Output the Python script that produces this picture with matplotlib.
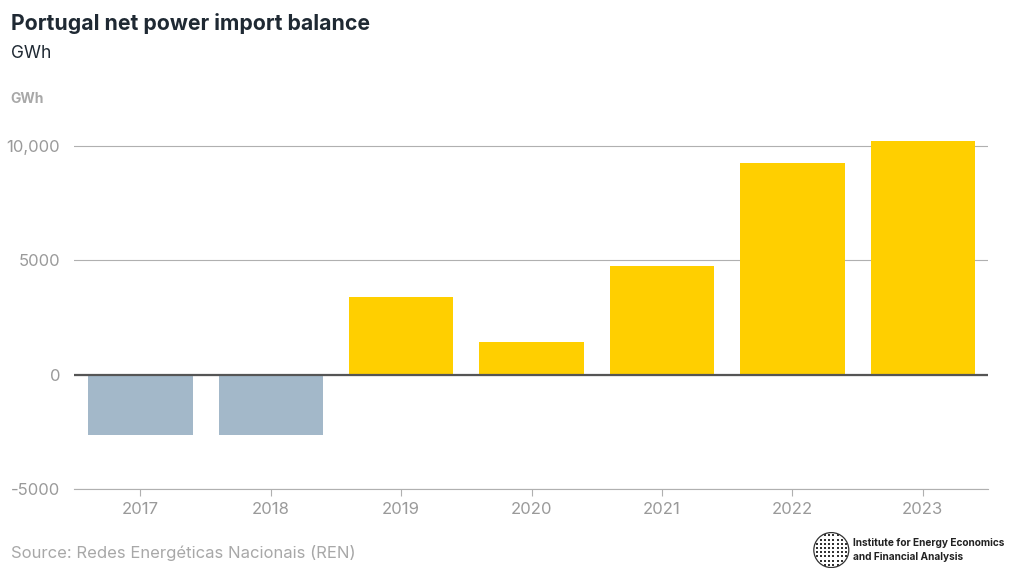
import numpy as np
import matplotlib.pyplot as plt
from matplotlib.ticker import FixedLocator

plt.rcParams['font.family'] = ['Inter', 'DejaVu Sans']

years = ['2017', '2018', '2019', '2020', '2021', '2022', '2023']
balance = [-2660, -2620, 3400, 1440, 4760, 9250, 10220]

yellow = '#FFCF00'
slate = '#A3B8C9'
colors = [slate if v < 0 else yellow for v in balance]

fig = plt.figure(figsize=(10.2, 5.83), dpi=100)
ax = fig.add_axes([0.0725, 0.1612, 0.8961, 0.6081])

x = np.arange(len(years))
ax.bar(x, balance, width=0.8, color=colors, zorder=2)

ax.set_xlim(-0.51, 6.5)
ax.set_ylim(-5000, 10500)
ax.yaxis.set_major_locator(FixedLocator([-5000, 0, 5000, 10000]))
ax.set_yticklabels(['-5000', '0', '5000', '10,000'])
ax.set_xticks(x)
ax.set_xticklabels(years)

ax.grid(axis='y', color='#b0b0b0', linewidth=0.8, zorder=0)
ax.axhline(0, color='#555555', linewidth=1.6, zorder=3)

for s in ['top', 'right', 'left']:
    ax.spines[s].set_visible(False)
ax.spines['bottom'].set_color('#b0b0b0')
ax.spines['bottom'].set_linewidth(0.8)

ax.tick_params(axis='y', length=0, pad=10, labelsize=12, labelcolor='#9a9a9a')
ax.tick_params(axis='x', length=5, color='#b0b0b0', pad=4, labelsize=12, labelcolor='#9a9a9a')

fig.text(0.0105, 0.96, 'Portugal net power import balance', fontsize=15.3, fontweight='bold',
         color='#1f2933', va='center')
fig.text(0.0105, 0.908, 'GWh', fontsize=12.5, color='#1f2933', va='center')
fig.text(0.0105, 0.83, 'GWh', fontsize=10, fontweight='bold', color='#a8a8a8', va='center')
fig.text(0.0105, 0.052, 'Source: Redes Energéticas Nacionais (REN)', fontsize=12,
         color='#a8a8a8', va='center')

# logo: dotted globe + name
lax = fig.add_axes([0.797, 0.025, 0.036, 0.063])
lax.set_xlim(-1.05, 1.05)
lax.set_ylim(-1.05, 1.05)
lax.set_aspect('equal')
lax.axis('off')
g = np.linspace(-0.84, 0.84, 8)
gx, gy = np.meshgrid(g, g)
m = gx**2 + gy**2 <= 0.85
lax.scatter(gx[m], gy[m], marker='s', s=3, color='#333333', linewidths=0)
lax.add_patch(plt.Circle((0, 0), 1.0, fill=False, color='#333333', lw=0.9))
fig.text(0.836, 0.068, 'Institute for Energy Economics', fontsize=7.3, fontweight='bold',
         color='#222222', va='center')
fig.text(0.836, 0.045, 'and Financial Analysis', fontsize=7.3, fontweight='bold',
         color='#222222', va='center')

fig.savefig('out.png', dpi=100)
